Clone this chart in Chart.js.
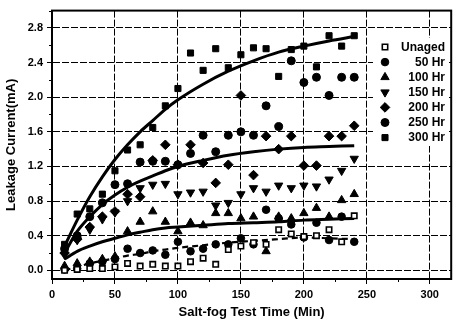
<!DOCTYPE html>
<html><head><meta charset="utf-8">
<script src="https://cdn.jsdelivr.net/npm/chart.js@4/dist/chart.umd.min.js"></script>
<style>html,body{margin:0;padding:0;background:#fff}#wrap{width:457px;height:324px}</style>
</head><body><div id="wrap"><canvas id="c" width="457" height="324"></canvas></div>
<script>
// ---- data ----
const times = [10,20,30,40,50,60,70,80,90,100,110,120,130,140,150,160,170,180,190,200,210,220,230,240];
const seriesNames = ["Unaged","50 Hr","100 Hr","150 Hr","200 Hr","250 Hr","300 Hr"];
const unaged = [0.0,0.01,0.02,0.02,0.04,0.08,0.05,0.07,0.05,0.05,0.1,0.14,0.07,0.24,0.28,0.32,0.3,0.47,0.42,0.39,0.4,0.47,0.33,0.63];
const hr50  = [0.01,0.02,0.08,0.1,0.13,0.25,0.2,0.23,0.18,0.33,0.22,0.25,0.3,0.3,0.37,0.3,0.7,0.6,0.53,0.38,0.55,0.35,0.62,0.33];
const hr100 = [0.05,0.08,0.1,0.13,0.16,0.45,0.56,0.68,0.56,0.45,0.55,0.52,0.66,0.66,0.6,0.62,0.22,0.62,0.6,0.66,0.72,0.62,0.81,0.88];
const hr150 = [0.18,0.35,0.47,0.59,0.67,0.8,0.95,0.99,1.0,0.88,0.9,0.91,0.75,0.78,0.88,0.95,0.91,0.98,0.95,0.98,0.97,1.05,1.15,1.29];
const hr200 = [0.2,0.36,0.5,0.62,0.68,0.88,0.85,1.27,1.45,1.22,1.45,1.24,1.01,1.22,2.02,1.1,1.55,1.4,1.55,1.21,1.21,1.55,1.55,1.67];
const hr250 = [0.25,0.4,0.62,0.78,0.99,1.0,1.25,1.26,1.26,1.22,1.35,1.56,1.37,1.56,1.6,1.56,1.9,1.66,2.42,2.17,2.23,2.02,2.23,2.23];
const hr300 = [0.3,0.65,0.71,0.88,1.15,1.39,1.45,1.65,1.9,2.1,2.51,2.31,2.56,2.34,2.49,2.57,2.56,2.24,2.55,2.59,2.35,2.71,2.59,2.71];
// fitted curves
const fitTimes = [10,20,30,40,50,60,70,80,90,100,120,140,160,180,200,220,240];
const fitTop   = [0.28,0.58,0.85,1.08,1.28,1.45,1.6,1.73,1.86,1.97,2.15,2.3,2.42,2.52,2.59,2.65,2.7];
const fitMid   = [0.2,0.45,0.62,0.76,0.87,0.96,1.03,1.09,1.15,1.2,1.27,1.33,1.37,1.4,1.42,1.43,1.44];
const fitLow   = [0.13,0.22,0.28,0.33,0.37,0.41,0.44,0.47,0.49,0.5,0.52,0.54,0.55,0.56,0.58,0.59,0.6];
const fitDash  = [0.0,0.04,0.08,0.11,0.14,0.17,0.19,0.22,0.24,0.26,0.29,0.32,0.34,0.36,0.38,0.37,0.36];
const xTicks = [0,50,100,150,200,250,300];
const yTicks = [0.0,0.4,0.8,1.2,1.6,2.0,2.4,2.8];

const toPts = (xs, ys) => xs.map((x,i)=>({x:x,y:ys[i]}));
const FONT = "'Liberation Sans', Arial, sans-serif";

const markerStyles = [
  {pointStyle:'rect', radius:3.8, bg:'#fff', border:'#000', bw:1.6},
  {pointStyle:'circle', radius:3.8, bg:'#000', border:'#000', bw:1},
  {pointStyle:'triangle', radius:4.8, bg:'#000', border:'#000', bw:1},
  {pointStyle:'triangle', radius:4.8, bg:'#000', border:'#000', bw:1, rotation:180},
  {pointStyle:'rectRot', radius:4.8, bg:'#000', border:'#000', bw:1},
  {pointStyle:'circle', radius:4, bg:'#000', border:'#000', bw:1},
  {pointStyle:'rect', radius:4.3, bg:'#000', border:'#000', bw:1}
];
const seriesVals = [unaged,hr50,hr100,hr150,hr200,hr250,hr300];

const datasets = [];
[[fitTop,[]],[fitMid,[]],[fitLow,[]],[fitDash,[6,4]]].forEach(([ys,dash],i)=>{
  datasets.push({type:'line', label:'fit'+i, data:toPts(fitTimes,ys), borderColor:'#000',
    borderWidth: i===3?2.2:3, borderDash:dash, pointRadius:0, fill:false,
    cubicInterpolationMode:'monotone', order:10});
});
seriesVals.forEach((vals,i)=>{
  const m = markerStyles[i];
  datasets.push({type:'scatter', label:seriesNames[i], data:toPts(times,vals),
    pointStyle:m.pointStyle, pointRadius:m.radius, pointRotation:m.rotation||0,
    backgroundColor:m.bg, borderColor:m.border, pointBorderWidth:m.bw, showLine:false, order:i});
});

const framePlugin = {
  id:'frame',
  beforeDatasetsDraw(chart){
    const {ctx, chartArea:a, scales:{x,y}} = chart;
    ctx.save();
    ctx.strokeStyle='#000'; ctx.lineWidth=1;
    for(let v=25; v<x.max; v+=50){ const px=Math.round(x.getPixelForValue(v))+0.5;
      ctx.beginPath(); ctx.moveTo(px,a.bottom); ctx.lineTo(px,a.bottom+3); ctx.stroke(); }
    for(let v=0.2; v<y.max; v+=0.4){ const py=Math.round(y.getPixelForValue(v))+0.5;
      ctx.beginPath(); ctx.moveTo(a.left,py); ctx.lineTo(a.left-3,py); ctx.stroke(); }
    ctx.restore();
  },
  afterDraw(chart){
    const {ctx, chartArea:a} = chart;
    ctx.save();
    const lx = 385, tx = 445, y0 = 47, dy = 15.1;
    ctx.fillStyle='#fff';
    ctx.fillRect(373, 38, 74, 108);
    ctx.strokeStyle='#000'; ctx.lineWidth=2;
    ctx.strokeRect(a.left, a.top, a.right-a.left, a.bottom-a.top);
    ctx.font = "bold 12px " + FONT;
    ctx.textAlign='right'; ctx.textBaseline='middle';
    seriesNames.forEach((n,i)=>{
      const m = markerStyles[i];
      const yy = y0 + i*dy;
      ctx.fillStyle = m.bg; ctx.strokeStyle=m.border; ctx.lineWidth=m.bw;
      Chart.helpers.drawPoint(ctx, {pointStyle:m.pointStyle, radius:m.radius, rotation:m.rotation||0, borderWidth:m.bw}, lx, yy);
      ctx.fillStyle='#000';
      ctx.fillText(n, tx, yy+0.5);
    });
    ctx.restore();
  }
};

new Chart(document.getElementById('c'), {
  data:{datasets},
  options:{
    responsive:false, animation:false, devicePixelRatio:1,
    layout:{padding:{top:6,right:2,left:0,bottom:0}},
    plugins:{legend:{display:false}, tooltip:{enabled:false}},
    scales:{
      x:{type:'linear', min:0, max:317,
        afterBuildTicks(s){ s.ticks = xTicks.map(v=>({value:v})); },
        afterFit(s){ s.height = 45; },
        ticks:{font:{family:FONT, size:11, weight:'bold'}, color:'#000', padding:4, maxRotation:0,
          callback:v=>String(v)},
        grid:{color:'#000', lineWidth:1, tickLength:5, tickColor:'#000'},
        border:{display:true, color:'#000', width:2, dash:[7,2]},
        title:{display:true, text:'Salt-fog Test Time (Min)', font:{family:FONT, size:13, weight:'bold'}, color:'#000', padding:{top:2}}
      },
      y:{type:'linear', min:-0.1, max:3.0,
        afterBuildTicks(s){ s.ticks = yTicks.map(v=>({value:v})); },
        afterFit(s){ s.width = 52; },
        ticks:{font:{family:FONT, size:11, weight:'bold'}, color:'#000', padding:4,
          callback:v=>Number(v).toFixed(1)},
        grid:{color:'#000', lineWidth:1, tickLength:5, tickColor:'#000'},
        border:{display:true, color:'#000', width:2, dash:[7,2]},
        title:{display:true, text:'Leakage Current(mA)', font:{family:FONT, size:13, weight:'bold'}, color:'#000', padding:{bottom:2}}
      }
    }
  },
  plugins:[framePlugin]
});
</script></body></html>
